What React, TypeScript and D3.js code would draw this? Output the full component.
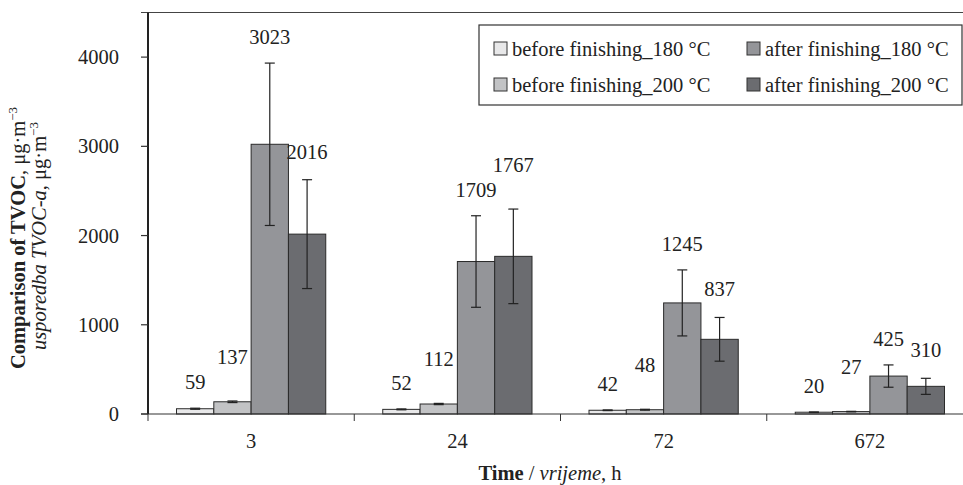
import React from 'react'
import * as d3 from 'd3'

const categories = ['3', '24', '72', '672']
const seriesNames = [
    'before finishing_180 °C',
    'before finishing_200 °C',
    'after finishing_180 °C',
    'after finishing_200 °C',
]
const before180 = [59, 52, 42, 20]
const before200 = [137, 112, 48, 27]
const after180 = [3023, 1709, 1245, 425]
const after200 = [2016, 1767, 837, 310]
const errBefore180 = [6, 5, 4, 3]
const errBefore200 = [9, 7, 5, 3]
const errAfter180 = [910, 513, 370, 125]
const errAfter200 = [610, 530, 245, 90]
const yTicks = [0, 1000, 2000, 3000, 4000]

const fills = ['#e8e8e9', '#c2c3c5', '#949599', '#6b6c70']
const FONT = "'Liberation Serif', 'Times New Roman', serif"

export default function App() {
    const width = 963
    const height = 485
    const values = [before180, before200, after180, after200]
    const errors = [errBefore180, errBefore200, errAfter180, errAfter200]

    const x = d3.scaleBand<string>().domain(categories).range([148, 973]).padding(0)
    const inner = d3.scaleBand<string>()
        .domain(seriesNames)
        .range([28.5, x.bandwidth() - 28.5])
        .padding(0)
    const y = d3.scaleLinear().domain([0, 4500]).range([414, 12.5])

    // label lift above the error-bar top, per series
    const lift = [26, 44, 26, 28]
    const charW = 10.25

    // place labels, bumping a label up when it would collide with its left neighbour
    const labels = categories.map((c, ci) => {
        const out: {x: number, cy: number, text: string}[] = []
        seriesNames.forEach((s, si) => {
            const v = values[si][ci]
            const e = errors[si][ci]
            const cx = x(c)! + inner(s)! + inner.bandwidth() / 2
            let cy = y(v + e) - lift[si]
            const prev = out[out.length - 1]
            if (prev) {
                const wSum = (String(v).length + prev.text.length) * charW / 2
                if (wSum > cx - prev.x && Math.abs(prev.cy - cy) < 20) cy = prev.cy - 25
            }
            out.push({x: cx, cy, text: String(v)})
        })
        return out
    })

    const legendPos = [
        {x: 494, y: 42},
        {x: 494, y: 78},
        {x: 747, y: 42},
        {x: 747, y: 78},
    ]

    return (
        <svg width={width} height={height}
             style={{position: 'absolute', left: 0, top: 0, fontFamily: FONT, fontSize: '20.5px'}}
             fill="#222">
            <rect x={0} y={0} width={width} height={height} fill="#fff"/>
            {/* top frame */}
            <line x1={141} x2={width} y1={y(4500)} y2={y(4500)} stroke="#444" strokeWidth={1.2}/>

            {/* bars */}
            {categories.map((c, ci) => (
                <g key={c} transform={`translate(${x(c)},0)`}>
                    {seriesNames.map((s, si) => {
                        const v = values[si][ci]
                        return (
                            <rect key={s} x={inner(s)!} width={inner.bandwidth()} y={y(v)} height={y(0) - y(v)}
                                  fill={fills[si]} stroke="#2a2a2a" strokeWidth={1}/>
                        )
                    })}
                </g>
            ))}

            {/* error bars */}
            {categories.map((c, ci) => (
                <g key={c} transform={`translate(${x(c)},0)`}>
                    {seriesNames.map((s, si) => {
                        const v = values[si][ci]
                        const e = errors[si][ci]
                        const cx = inner(s)! + inner.bandwidth() / 2
                        return (
                            <g key={s} stroke="#222" strokeWidth={1.2}>
                                <line x1={cx} x2={cx} y1={y(v + e)} y2={y(v - e)}/>
                                <line x1={cx - 5} x2={cx + 5} y1={y(v + e)} y2={y(v + e)}/>
                                <line x1={cx - 5} x2={cx + 5} y1={y(v - e)} y2={y(v - e)}/>
                            </g>
                        )
                    })}
                </g>
            ))}

            {/* value labels */}
            {labels.flat().map((l, i) => (
                <text key={i} x={l.x} y={l.cy + 7} textAnchor="middle">{l.text}</text>
            ))}

            {/* x axis */}
            <line x1={141} x2={width} y1={y(0)} y2={y(0)} stroke="#333" strokeWidth={1.2}/>
            {categories.map((c) => (
                <line key={c} x1={x(c)!} x2={x(c)!} y1={y(0)} y2={y(0) + 7} stroke="#333" strokeWidth={1}/>
            ))}
            {categories.map((c) => (
                <text key={c} x={x(c)! + x.bandwidth() / 2} y={448} textAnchor="middle">{c}</text>
            ))}

            {/* y axis */}
            <line x1={148} x2={148} y1={y(4500)} y2={y(0)} stroke="#222" strokeWidth={2}/>
            {yTicks.map((t) => (
                <g key={t}>
                    <line x1={141} x2={148} y1={y(t)} y2={y(t)} stroke="#333" strokeWidth={1.2}/>
                    <text x={119} y={y(t) + 7} textAnchor="end">{t}</text>
                </g>
            ))}

            {/* axis titles */}
            <text transform="translate(25,238) rotate(-90)" textAnchor="middle">
                <tspan fontWeight="bold">Comparison of TVOC</tspan>
                <tspan>, μg·m</tspan>
                <tspan dy={-8} fontSize={13}>−3</tspan>
            </text>
            <text transform="translate(46,236) rotate(-90)" textAnchor="middle">
                <tspan fontStyle="italic">usporedba TVOC-a</tspan>
                <tspan>, μg·m</tspan>
                <tspan dy={-8} fontSize={13}>−3</tspan>
            </text>
            <text x={550} y={480} textAnchor="middle">
                <tspan fontWeight="bold">Time</tspan>
                <tspan> / </tspan>
                <tspan fontStyle="italic">vrijeme</tspan>
                <tspan>, h</tspan>
            </text>

            {/* legend */}
            <rect x={479} y={25} width={483} height={80} fill="#fff" stroke="#333" strokeWidth={1.2}/>
            {seriesNames.map((s, si) => (
                <g key={s}>
                    <rect x={legendPos[si].x} y={legendPos[si].y} width={13} height={13}
                          fill={fills[si]} stroke="#333" strokeWidth={1}/>
                    <text x={legendPos[si].x + 18} y={legendPos[si].y + 14}>{s}</text>
                </g>
            ))}
        </svg>
    )
}
